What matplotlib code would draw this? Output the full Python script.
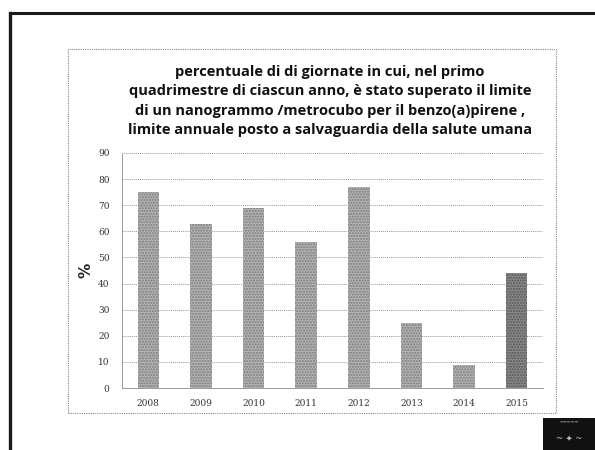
import matplotlib
matplotlib.use("Agg")
import matplotlib.pyplot as plt
from matplotlib.lines import Line2D
from matplotlib.patches import Rectangle

years = ["2008", "2009", "2010", "2011", "2012", "2013", "2014", "2015"]
values = [75, 63, 69, 56, 77, 25, 9, 44]
yticks = [0, 10, 20, 30, 40, 50, 60, 70, 80, 90]
title = ("percentuale di di giornate in cui, nel primo\n"
         "quadrimestre di ciascun anno, è stato superato il limite\n"
         "di un nanogrammo /metrocubo per il benzo(a)pirene ,\n"
         "limite annuale posto a salvaguardia della salute umana")

W, H = 595, 450
fig = plt.figure(figsize=(W / 100, H / 100), dpi=100)
fig.patch.set_facecolor("white")

def fx(x):
    return x / W

def fy(y):
    return 1 - y / H

# outer slide frame
fig.add_artist(Line2D([fx(10), fx(595)], [fy(13), fy(13)], color="#1a1a1a", lw=2.2))
fig.add_artist(Line2D([fx(10), fx(10)], [fy(13), fy(450)], color="#1a1a1a", lw=2.4))

# chart box (dotted)
fig.add_artist(Rectangle((fx(68), fy(413)), fx(556) - fx(68), fy(49) - fy(413),
                         fill=False, edgecolor="#888888", lw=0.8, linestyle=(0, (1, 1))))

# dark logo at bottom right
fig.add_artist(Rectangle((fx(543), fy(450)), fx(595) - fx(543), fy(418) - fy(450),
                         facecolor="#111111", edgecolor="none"))
fig.text(fx(569), fy(422), "▬▬▬▬▬", fontsize=3, color="#666666", ha="center", va="center")
fig.text(fx(569), fy(438), "~ ✦ ~", fontsize=6, color="#bbbbbb", ha="center", va="center")

fig.text(fx(330), fy(101), title, ha="center", va="center", fontsize=10.5,
         fontweight="bold", family="Open Sans", linespacing=1.5, color="#111111")

ax = fig.add_axes([fx(122), fy(388), fx(543) - fx(122), fy(153) - fy(388)])
x = range(len(years))
colors = ["#b4b4b4"] * 7 + ["#8a8a8a"]
bars = ax.bar(x, values, width=0.41, color=colors, linewidth=0, hatch="......")
for b, c in zip(bars, colors):
    b.set_edgecolor("#7a7a7a" if c == "#b4b4b4" else "#555555")
    b.set_linewidth(0)

ax.set_xlim(-0.5, len(years) - 0.5)
ax.set_ylim(0, 90)
ax.set_yticks(yticks)
ax.set_yticklabels([str(t) for t in yticks])
ax.set_xticks(list(x))
ax.set_xticklabels(years)
ax.tick_params(axis="both", length=0, labelsize=6.5, colors="#333333")
ax.tick_params(axis="y", pad=9)
ax.tick_params(axis="x", pad=8)
for lab in ax.get_xticklabels() + ax.get_yticklabels():
    lab.set_family("DejaVu Serif")

ax.set_axisbelow(True)
ax.grid(axis="y", color="#999999", linestyle=(0, (1, 1)), linewidth=0.7)
for s in ["top", "right"]:
    ax.spines[s].set_visible(False)
for s in ["left", "bottom"]:
    ax.spines[s].set_color("#999999")
    ax.spines[s].set_linestyle((0, (1, 1)))
    ax.spines[s].set_linewidth(0.7)

ax.set_ylabel("%", fontsize=11, fontweight="bold", labelpad=3, color="#222222")

fig.savefig("out.png", dpi=100)
